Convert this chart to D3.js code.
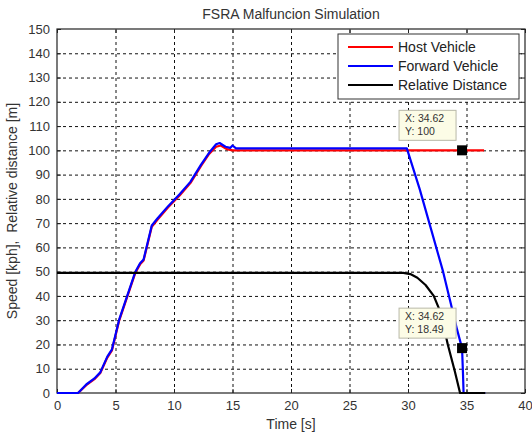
<!DOCTYPE html>
<html>
<head>
<meta charset="utf-8">
<script src="https://cdn.jsdelivr.net/npm/d3@7"></script>
<style>
  body { margin: 0; background: #fff; }
  svg { display: block; font-family: "Liberation Sans", Arial, sans-serif; }
</style>
</head>
<body>
<div id="chart"></div>
<script>
const WIDTH = 532;
const HEIGHT = 436;
const LEFT = 57, RIGHT = 525, TOP = 29, BOTTOM = 393;

const xTicks = [0, 5, 10, 15, 20, 25, 30, 35, 40];
const yTicks = [0, 10, 20, 30, 40, 50, 60, 70, 80, 90, 100, 110, 120, 130, 140, 150];
const seriesNames = ['Host Vehicle', 'Forward Vehicle', 'Relative Distance'];
const seriesColors = ['#ff0000', '#0000ff', '#000000'];

// time [s], value
const hostT = [0, 1.8, 2.5, 3.2, 3.7, 4.3, 4.7, 5.3, 6, 6.7, 7.1, 7.4, 8.1, 8.6, 9.5, 10.5, 11.4, 12.3, 13, 13.6, 14.0, 14.5, 15, 36.5];
const hostV = [0, 0, 3.2, 5.7, 8.2, 14.6, 17.6, 29.6, 39.6, 49.6, 53, 54.6, 68.5, 71.5, 76.5, 81.5, 86.5, 93.5, 98.5, 101.5, 102, 100.5, 100, 100];

const fwdT = [0, 1.8, 2.5, 3.2, 3.7, 4.3, 4.7, 5.3, 6, 6.7, 7.1, 7.4, 8.1, 8.6, 9.5, 10.5, 11.4, 12.3, 13, 13.6, 13.9, 14.4, 14.8, 15.0, 15.3, 29.9, 31, 32, 33, 33.6, 34.2, 34.62, 34.7, 34.75, 36.6];
const fwdV = [0, 0, 3.5, 6, 8.5, 15, 18, 30, 40, 50, 53.5, 55, 69, 72, 77, 82, 87, 94, 99, 102.5, 103, 101.5, 101, 102, 100.8, 100.8, 84, 67, 50, 38, 26, 18.49, 8, 0, 0];

const relT = [0, 29.6, 30.2, 30.8, 31.5, 32.2, 32.8, 33.4, 34, 34.45, 36.6];
const relV = [49.5, 49.5, 49, 47.5, 44.5, 40, 33, 20, 9, 0, 0];

const tips = [{ x: 34.62, y: 100, label: 'Y: 100' }, { x: 34.62, y: 18.49, label: 'Y: 18.49' }];

const x = d3.scaleLinear().domain([0, 40]).range([LEFT, RIGHT]);
const y = d3.scaleLinear().domain([0, 150]).range([BOTTOM, TOP]);

const svg = d3.select('#chart').append('svg')
  .attr('width', WIDTH)
  .attr('height', HEIGHT);

// grid
const grid = svg.append('g').attr('class', 'grid');
grid.append('g')
  .attr('transform', `translate(0,${BOTTOM})`)
  .call(d3.axisBottom(x).tickValues(xTicks.slice(1, -1)).tickSize(-(BOTTOM - TOP)).tickFormat(''));
grid.append('g')
  .attr('transform', `translate(${LEFT},0)`)
  .call(d3.axisLeft(y).tickValues(yTicks.slice(1, -1)).tickSize(-(RIGHT - LEFT)).tickFormat(''));
grid.selectAll('.domain').remove();
grid.selectAll('line')
  .attr('stroke', '#111')
  .attr('stroke-dasharray', '3,3');

// axes with inward ticks
const axStyle = g => {
  g.selectAll('.domain').remove();
  g.selectAll('line').attr('stroke', '#222');
  g.selectAll('text').attr('fill', '#333').attr('font-size', 13).attr('font-family', '"Liberation Sans", Arial, sans-serif');
};
svg.append('g')
  .attr('transform', `translate(0,${BOTTOM})`)
  .call(d3.axisBottom(x).tickValues(xTicks).tickSize(-4).tickPadding(8))
  .call(axStyle);
svg.append('g')
  .attr('transform', `translate(0,${TOP})`)
  .call(d3.axisTop(x).tickValues(xTicks).tickSize(-4).tickFormat(''))
  .call(axStyle);
svg.append('g')
  .attr('transform', `translate(${LEFT},0)`)
  .call(d3.axisLeft(y).tickValues(yTicks).tickSize(-4).tickPadding(7))
  .call(axStyle);
svg.append('g')
  .attr('transform', `translate(${RIGHT},0)`)
  .call(d3.axisRight(y).tickValues(yTicks).tickSize(-4).tickFormat(''))
  .call(axStyle);

// frame
svg.append('rect')
  .attr('x', LEFT).attr('y', TOP)
  .attr('width', RIGHT - LEFT).attr('height', BOTTOM - TOP)
  .attr('fill', 'none').attr('stroke', '#222').attr('stroke-width', 1.2);

// series
const line = d3.line().x(d => x(d[0])).y(d => y(d[1]));
const series = [d3.zip(hostT, hostV), d3.zip(fwdT, fwdV), d3.zip(relT, relV)];
series.forEach((pts, i) => {
  svg.append('path')
    .datum(pts)
    .attr('d', line)
    .attr('fill', 'none')
    .attr('stroke', seriesColors[i])
    .attr('stroke-width', 2.2)
    .attr('stroke-linejoin', 'round');
});

// data tips
tips.forEach(t => {
  const px = x(t.x), py = y(t.y);
  const g = svg.append('g');
  g.append('rect')
    .attr('x', px - 63).attr('y', py - 40)
    .attr('width', 57).attr('height', 30)
    .attr('fill', '#fcfce6').attr('stroke', '#b8b8a8');
  g.append('text')
    .attr('x', px - 57).attr('y', py - 28)
    .attr('font-size', 10.5).attr('fill', '#333')
    .text('X: ' + t.x);
  g.append('text')
    .attr('x', px - 57).attr('y', py - 15)
    .attr('font-size', 10.5).attr('fill', '#333')
    .text(t.label);
  g.append('rect')
    .attr('x', px - 5).attr('y', py - 5)
    .attr('width', 10).attr('height', 10)
    .attr('fill', '#000');
});

// legend
const legend = svg.append('g').attr('transform', 'translate(338,34)');
legend.append('rect')
  .attr('width', 181).attr('height', 65)
  .attr('fill', '#fff').attr('stroke', '#333');
seriesNames.forEach((name, i) => {
  const ly = 13 + i * 19;
  legend.append('line')
    .attr('x1', 10).attr('x2', 55)
    .attr('y1', ly).attr('y2', ly)
    .attr('stroke', seriesColors[i]).attr('stroke-width', 2.2);
  legend.append('text')
    .attr('x', 60).attr('y', ly + 5)
    .attr('font-size', 14).attr('fill', '#222')
    .text(name);
});

// labels
svg.append('text')
  .attr('x', (LEFT + RIGHT) / 2).attr('y', 19)
  .attr('text-anchor', 'middle')
  .attr('font-size', 14).attr('fill', '#333')
  .text('FSRA Malfuncion Simulation');
svg.append('text')
  .attr('x', (LEFT + RIGHT) / 2).attr('y', 429)
  .attr('text-anchor', 'middle')
  .attr('font-size', 14).attr('fill', '#333')
  .text('Time [s]');
svg.append('text')
  .attr('transform', `translate(17,${(TOP + BOTTOM) / 2}) rotate(-90)`)
  .attr('text-anchor', 'middle')
  .attr('font-size', 14).attr('fill', '#333')
  .attr('xml:space', 'preserve')
  .text('Speed [kph],  Relative distance [m]');
</script>
</body>
</html>
